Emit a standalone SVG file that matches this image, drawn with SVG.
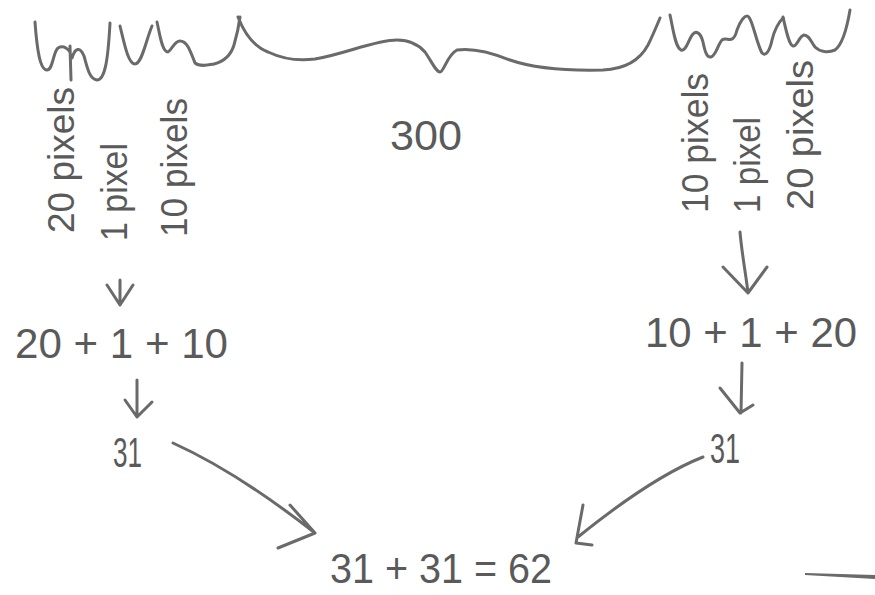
<svg xmlns="http://www.w3.org/2000/svg" width="875" height="595" viewBox="0 0 875 595">
<style>
.ink{fill:none;stroke:#6a6a6a;stroke-width:3;stroke-linecap:round;stroke-linejoin:round}
.t{font-family:"Liberation Sans","DejaVu Sans",sans-serif;fill:#5a5a5a;font-size:42px}
.v{font-family:"Liberation Sans","DejaVu Sans",sans-serif;fill:#5a5a5a;font-size:36px}
</style>
<rect width="875" height="595" fill="#ffffff"/>
<g id="brace-left">
<path class="ink" d="M35,22 C37,50 40,70 47,70 C53,70 53,52 58,48 C63,45 67,48 70,52 M70,46 L71,80 M72,58 C75,48 80,46 84,56 C87,66 89,79 97,80 C105,80 108,60 110,23"/>
<path class="ink" d="M120,26 C124,42 128,64 135,64 C142,64 146,40 152,26"/>
<path class="ink" d="M157,22 C160,35 162,52 168,52 C172,50 174,41 180,41 C187,41 190,50 195,63 C200,67 208,65 214,64 C222,62 230,58 234,45 C237,35 239,25 240,17"/>
</g>
<g id="brace-middle">
<path class="ink" d="M238,17 C245,35 255,47 268,52 C285,60 300,61 315,59 C345,54 375,40 397,40 C410,40 418,44 425,52 C432,62 436,72 440,72 C444,72 447,55 457,50 C470,48 490,52 510,60 C530,67 560,71 603,70 C625,69 640,60 648,45 C653,35 657,25 660,18"/>
</g>
<g id="brace-right">
<path class="ink" d="M670,15 C673,28 675,47 681,50 C686,52 688,40 693,34 C697,30 701,34 703,42 C705,52 707,58 711,57 C716,56 718,44 722,40 C727,36 733,46 737,30 C740,22 744,16 747,16 C752,16 756,42 762,53 C766,57 770,50 772,40 C774,32 777,24 783,18"/>
<path class="ink" d="M783,17 C786,30 789,45 793,46 C797,47 799,36 804,35 C809,35 811,42 815,47 C820,52 828,53 835,50 C843,44 847,28 850,10"/>
</g>
<g id="label-300"><text class="t" x="390" y="150" textLength="72" lengthAdjust="spacingAndGlyphs">300</text></g>
<g id="label-left-20px"><text class="v" transform="translate(74,233) rotate(-90)" textLength="146" lengthAdjust="spacingAndGlyphs">20 pixels</text></g>
<g id="label-left-1px"><text class="v" transform="translate(127,241) rotate(-90)" textLength="98" lengthAdjust="spacingAndGlyphs">1 pixel</text></g>
<g id="label-left-10px"><text class="v" transform="translate(187,237) rotate(-90)" textLength="139" lengthAdjust="spacingAndGlyphs">10 pixels</text></g>
<g id="label-right-10px"><text class="v" transform="translate(708,213) rotate(-90)" textLength="140" lengthAdjust="spacingAndGlyphs">10 pixels</text></g>
<g id="label-right-1px"><text class="v" transform="translate(760,213) rotate(-90)" textLength="96" lengthAdjust="spacingAndGlyphs">1 pixel</text></g>
<g id="label-right-20px"><text class="v" transform="translate(813,210) rotate(-90)" textLength="150" lengthAdjust="spacingAndGlyphs">20 pixels</text></g>
<g id="sum-left"><text class="t" x="15" y="358" textLength="213" lengthAdjust="spacingAndGlyphs">20 + 1 + 10</text></g>
<g id="sum-right"><text class="t" x="645" y="347" textLength="212" lengthAdjust="spacingAndGlyphs">10 + 1 + 20</text></g>
<g id="result-left"><text class="t" x="113" y="467" textLength="29" lengthAdjust="spacingAndGlyphs">31</text></g>
<g id="result-right"><text class="t" x="710" y="463" textLength="30" lengthAdjust="spacingAndGlyphs">31</text></g>
<g id="total"><text class="t" x="330" y="583" textLength="222" lengthAdjust="spacingAndGlyphs">31 + 31 = 62</text></g>
<g id="connectors">
<path class="ink" d="M120,280 L120,305 M107,285 L120,305 L133,285"/>
<path class="ink" d="M137,380 L137,417 M125,400 L137,417 L152,402"/>
<path class="ink" d="M740,232 C742,255 746,275 748,293 M723,267 L748,293 L767,267"/>
<path class="ink" d="M742,363 L741,413 M720,388 L740,413 L753,405"/>
<path class="ink" d="M173,443 C215,462 260,490 315,533 M290,505 L315,533 L278,548"/>
<path class="ink" d="M703,457 C670,470 630,495 578,537 M583,505 L576,543 L592,545"/>
<path d="M805,573 L875,575 L875,579 L805,575 Z" fill="#6a6a6a"/>
</g>
</svg>
